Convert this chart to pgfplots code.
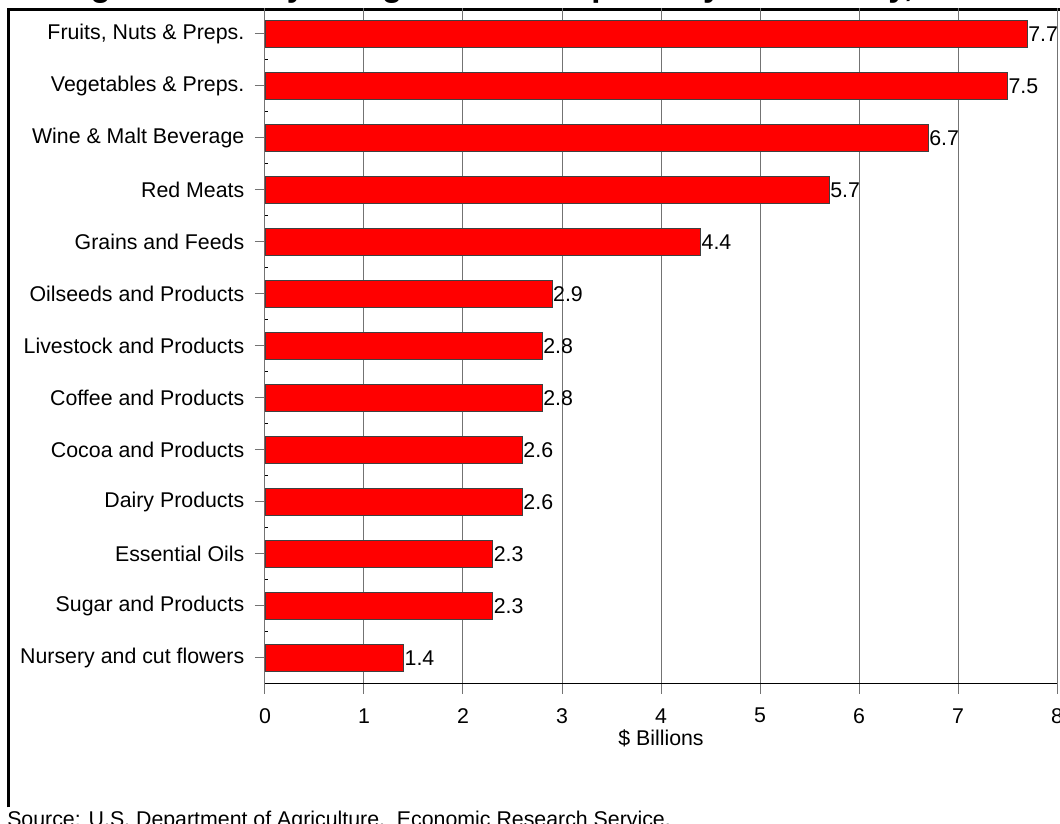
\documentclass[border=0pt]{standalone}
\usepackage{pgfplots}
\pgfplotsset{compat=1.18}
\usepackage{fontspec}
\setmainfont{Liberation Sans}

\begin{document}
\begin{tikzpicture}
\useasboundingbox (0,0) rectangle (795pt,618pt);
\clip (0,0) rectangle (795pt,618pt);
\fill[white] (0,0) rectangle (795pt,618pt);
% cut-off title and source line
\node[anchor=base west, inner sep=0pt, font=\fontsize{24.75}{28}\selectfont\bfseries]
	at (-12pt,620.5pt) {Leading U.S. fiscal year agricultural imports by commodity, 2005};
\node[anchor=base west, inner sep=0pt, font=\fontsize{16}{19}\selectfont]
	at (5.25pt,-2.25pt) {Source: U.S. Department of Agriculture,\ \ Economic Research Service.};
\draw[line width=2.25pt] (6.4pt,12.5pt) -- (6.4pt,610.9pt) -- (795pt,610.9pt);
\begin{axis}[
	at={(198.75pt,105pt)}, anchor=south west,
	scale only axis, width=594pt, height=507pt,
	xbar, bar width=20.25pt,
	xmin=0, xmax=8, ymin=-0.5, ymax=12.5,
	xtick={0,...,8},
	ytick={0,...,12},
	yticklabels={Nursery and cut flowers, Sugar and Products, Essential Oils,
		Dairy Products, Cocoa and Products, Coffee and Products,
		Livestock and Products, Oilseeds and Products, Grains and Feeds,
		Red Meats, Wine \& Malt Beverage, Vegetables \& Preps.,
		{Fruits, Nuts \& Preps.}},
	extra y ticks={0.5,1.5,...,11.5},
	extra y tick labels={},
	extra y tick style={tick align=inside, major tick length=2.5pt, tick style={black, line width=0.75pt}},
	axis x line*=bottom, axis y line*=left,
	x axis line style={black, line width=0.75pt},
	y axis line style={black!55, line width=0.75pt},
	tick align=outside,
	major tick length=7.5pt,
	tick style={black!55, line width=0.75pt},
	xmajorgrids,
	grid style={black!55, line width=0.75pt},
	/pgf/number format/assume math mode=true,
	tick label style={font=\fontsize{16}{19}\selectfont},
	xticklabel style={anchor=center, yshift=-16.25pt},
	yticklabel style={anchor=east, xshift=-4.5pt},
	xlabel={\$ Billions},
	every axis x label/.style={at={(axis description cs:0.5,0)}, anchor=center, yshift=-40.5pt, font=\fontsize{16}{19}\selectfont},
	nodes near coords={\pgfmathprintnumber[fixed,fixed zerofill,precision=1,assume math mode=true]{\pgfplotspointmeta}},
	every node near coord/.append style={anchor=west, inner sep=0.5pt, black, font=\fontsize{16}{19}\selectfont},
]
\addplot[fill=red, draw=black!75, line width=0.6pt] coordinates {
	(1.4,0) (2.3,1) (2.3,2) (2.6,3) (2.6,4) (2.8,5) (2.8,6)
	(2.9,7) (4.4,8) (5.7,9) (6.7,10) (7.5,11) (7.7,12)
};
\end{axis}
\end{tikzpicture}
\end{document}
